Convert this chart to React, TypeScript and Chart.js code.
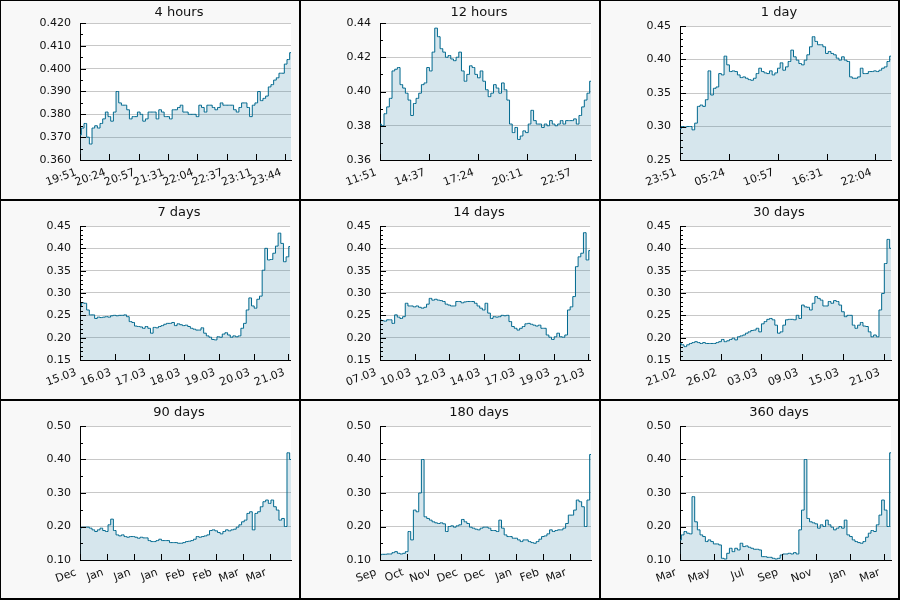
import React, { useEffect, useRef } from "react";
import { Chart, registerables } from "chart.js";

Chart.register(...registerables);

const FONT_FAMILY = "'DejaVu Sans', 'Liberation Sans', sans-serif";
const LINE_COLOR = "#00698f";
const FILL_COLOR = "rgba(50, 130, 165, 0.2)";
const GRID_COLOR = "#c8c8c8";
const PANEL_BG = "#f8f8f8";
const TEXT_COLOR = "#111";

// ---- 4 hours ----
const hours4Ticks = ["19:51", "20:24", "20:57", "21:31", "22:04", "22:37", "23:11", "23:44"];
const hours4Values = [
  0.371, 0.374, 0.376, 0.370, 0.367, 0.374, 0.375, 0.374, 0.376, 0.378,
  0.381, 0.379, 0.377, 0.381, 0.390, 0.385, 0.384, 0.384, 0.382, 0.378,
  0.379, 0.379, 0.381, 0.380, 0.377, 0.378, 0.381, 0.381, 0.381, 0.378,
  0.382, 0.381, 0.379, 0.379, 0.378, 0.382, 0.382, 0.383, 0.384, 0.381,
  0.381, 0.380, 0.380, 0.380, 0.379, 0.384, 0.383, 0.381, 0.384, 0.384,
  0.383, 0.382, 0.383, 0.385, 0.384, 0.384, 0.384, 0.384, 0.382, 0.381,
  0.383, 0.385, 0.385, 0.383, 0.379, 0.384, 0.385, 0.390, 0.386, 0.387,
  0.388, 0.392, 0.393, 0.395, 0.396, 0.398, 0.398, 0.402, 0.404, 0.407,
];

// ---- 12 hours ----
const hours12Ticks = ["11:51", "14:37", "17:24", "20:11", "22:57"];
const hours12Values = [
  0.381, 0.380, 0.387, 0.391, 0.396, 0.412, 0.413, 0.414, 0.404, 0.402,
  0.399, 0.395, 0.386, 0.393, 0.396, 0.399, 0.404, 0.405, 0.414, 0.412,
  0.423, 0.437, 0.432, 0.425, 0.423, 0.420, 0.421, 0.419, 0.418, 0.420,
  0.423, 0.412, 0.406, 0.410, 0.415, 0.414, 0.410, 0.408, 0.412, 0.406,
  0.401, 0.397, 0.399, 0.404, 0.402, 0.399, 0.405, 0.401, 0.395, 0.381,
  0.376, 0.379, 0.372, 0.374, 0.377, 0.376, 0.381, 0.389, 0.383, 0.381,
  0.381, 0.379, 0.381, 0.380, 0.383, 0.381, 0.380, 0.381, 0.383, 0.381,
  0.383, 0.383, 0.383, 0.384, 0.381, 0.386, 0.391, 0.395, 0.399, 0.406,
];

// ---- 1 day ----
const day1Ticks = ["23:51", "05:24", "10:57", "16:31", "22:04"];
const day1Values = [
  0.297, 0.300, 0.299, 0.300, 0.300, 0.295, 0.305, 0.330, 0.332, 0.330,
  0.340, 0.383, 0.347, 0.357, 0.359, 0.379, 0.377, 0.405, 0.392, 0.382,
  0.383, 0.382, 0.377, 0.373, 0.374, 0.372, 0.370, 0.369, 0.372, 0.379,
  0.387, 0.382, 0.380, 0.379, 0.383, 0.377, 0.380, 0.387, 0.395, 0.384,
  0.389, 0.397, 0.414, 0.404, 0.399, 0.394, 0.392, 0.399, 0.407, 0.419,
  0.434, 0.427, 0.422, 0.422, 0.419, 0.409, 0.412, 0.409, 0.407, 0.402,
  0.399, 0.404, 0.399, 0.397, 0.374, 0.372, 0.372, 0.374, 0.387, 0.379,
  0.379, 0.382, 0.382, 0.383, 0.382, 0.384, 0.387, 0.389, 0.397, 0.405,
];

// ---- 7 days ----
const days7Ticks = ["15.03", "16.03", "17.03", "18.03", "19.03", "20.03", "21.03"];
const days7Values = [
  0.269, 0.278, 0.277, 0.262, 0.251, 0.251, 0.243, 0.246, 0.245, 0.246,
  0.247, 0.246, 0.249, 0.250, 0.249, 0.250, 0.250, 0.251, 0.247, 0.236,
  0.234, 0.226, 0.225, 0.224, 0.221, 0.225, 0.221, 0.210, 0.223, 0.222,
  0.225, 0.227, 0.230, 0.232, 0.232, 0.234, 0.227, 0.231, 0.229, 0.227,
  0.228, 0.225, 0.221, 0.219, 0.217, 0.217, 0.222, 0.210, 0.204, 0.201,
  0.196, 0.195, 0.202, 0.201, 0.208, 0.211, 0.206, 0.201, 0.204, 0.202,
  0.204, 0.221, 0.232, 0.262, 0.289, 0.271, 0.266, 0.286, 0.293, 0.351,
  0.400, 0.374, 0.375, 0.389, 0.405, 0.434, 0.411, 0.370, 0.381, 0.404,
];

// ---- 14 days ----
const days14Ticks = ["07.03", "10.03", "12.03", "14.03", "17.03", "19.03", "21.03"];
const days14Values = [
  0.240, 0.238, 0.237, 0.240, 0.240, 0.232, 0.251, 0.246, 0.243, 0.247,
  0.277, 0.271, 0.271, 0.269, 0.271, 0.268, 0.266, 0.268, 0.275, 0.288,
  0.284, 0.286, 0.284, 0.283, 0.281, 0.275, 0.273, 0.271, 0.271, 0.281,
  0.281, 0.278, 0.280, 0.281, 0.281, 0.281, 0.277, 0.271, 0.266, 0.262,
  0.277, 0.255, 0.243, 0.247, 0.246, 0.247, 0.250, 0.249, 0.250, 0.236,
  0.225, 0.221, 0.217, 0.221, 0.225, 0.231, 0.232, 0.230, 0.228, 0.226,
  0.228, 0.221, 0.221, 0.206, 0.201, 0.196, 0.202, 0.210, 0.202, 0.201,
  0.206, 0.262, 0.269, 0.292, 0.359, 0.381, 0.389, 0.435, 0.374, 0.395,
];

// ---- 30 days ----
const days30Ticks = ["21.02", "26.02", "03.03", "09.03", "15.03", "21.03"];
const days30Values = [
  0.187, 0.184, 0.180, 0.184, 0.187, 0.189, 0.191, 0.189, 0.187, 0.189,
  0.187, 0.187, 0.187, 0.187, 0.189, 0.191, 0.196, 0.191, 0.193, 0.196,
  0.199, 0.195, 0.202, 0.204, 0.206, 0.210, 0.213, 0.216, 0.217, 0.221,
  0.213, 0.231, 0.236, 0.241, 0.243, 0.240, 0.228, 0.210, 0.213, 0.228,
  0.240, 0.241, 0.241, 0.240, 0.250, 0.243, 0.273, 0.269, 0.268, 0.262,
  0.277, 0.292, 0.288, 0.284, 0.271, 0.271, 0.281, 0.277, 0.283, 0.281,
  0.273, 0.258, 0.247, 0.250, 0.250, 0.228, 0.221, 0.228, 0.234, 0.226,
  0.225, 0.213, 0.202, 0.206, 0.202, 0.262, 0.299, 0.366, 0.420, 0.400,
];

// ---- 90 days ----
const days90Ticks = ["Dec", "Jan", "Jan", "Jan", "Feb", "Feb", "Mar", "Mar"];
const days90Values = [
  0.195, 0.198, 0.198, 0.198, 0.195, 0.190, 0.185, 0.190, 0.195, 0.188,
  0.185, 0.205, 0.222, 0.188, 0.175, 0.172, 0.175, 0.170, 0.168, 0.170,
  0.170, 0.168, 0.165, 0.168, 0.166, 0.166, 0.158, 0.155, 0.155, 0.158,
  0.162, 0.158, 0.158, 0.158, 0.152, 0.152, 0.152, 0.150, 0.150, 0.152,
  0.155, 0.156, 0.158, 0.162, 0.170, 0.168, 0.170, 0.172, 0.175, 0.188,
  0.190, 0.187, 0.182, 0.178, 0.185, 0.190, 0.187, 0.190, 0.192, 0.198,
  0.205, 0.214, 0.219, 0.239, 0.244, 0.190, 0.239, 0.244, 0.259, 0.274,
  0.279, 0.269, 0.279, 0.259, 0.249, 0.219, 0.224, 0.200, 0.420, 0.400,
];

// ---- 180 days ----
const days180Ticks = ["Sep", "Oct", "Nov", "Dec", "Dec", "Jan", "Feb", "Mar"];
const days180Values = [
  0.115, 0.117, 0.117, 0.118, 0.118, 0.122, 0.125, 0.120, 0.118, 0.120,
  0.125, 0.185, 0.160, 0.249, 0.244, 0.300, 0.400, 0.229, 0.224, 0.219,
  0.214, 0.211, 0.209, 0.211, 0.208, 0.185, 0.200, 0.202, 0.198, 0.202,
  0.205, 0.221, 0.214, 0.209, 0.198, 0.195, 0.192, 0.190, 0.195, 0.198,
  0.198, 0.195, 0.188, 0.188, 0.185, 0.219, 0.195, 0.175, 0.170, 0.170,
  0.165, 0.165, 0.160, 0.155, 0.160, 0.160, 0.155, 0.152, 0.150, 0.155,
  0.162, 0.170, 0.172, 0.178, 0.190, 0.185, 0.188, 0.190, 0.190, 0.195,
  0.209, 0.234, 0.234, 0.249, 0.279, 0.274, 0.259, 0.200, 0.279, 0.415,
];

// ---- 360 days ----
const days360Ticks = ["Mar", "May", "Jul", "Sep", "Nov", "Jan", "Mar"];
const days360Values = [
  0.160, 0.175, 0.185, 0.180, 0.178, 0.289, 0.214, 0.190, 0.175, 0.170,
  0.155, 0.160, 0.155, 0.148, 0.148, 0.145, 0.105, 0.103, 0.120, 0.135,
  0.125, 0.135, 0.130, 0.150, 0.140, 0.142, 0.138, 0.135, 0.132, 0.132,
  0.130, 0.110, 0.110, 0.108, 0.108, 0.105, 0.103, 0.105, 0.115, 0.118,
  0.118, 0.120, 0.118, 0.122, 0.118, 0.190, 0.249, 0.400, 0.224, 0.214,
  0.211, 0.208, 0.195, 0.205, 0.200, 0.219, 0.205, 0.198, 0.190, 0.195,
  0.200, 0.195, 0.219, 0.175, 0.170, 0.160, 0.155, 0.152, 0.150, 0.155,
  0.168, 0.180, 0.188, 0.185, 0.205, 0.234, 0.279, 0.249, 0.200, 0.420,
];

interface PanelSpec {
  title: string;
  span: number; // seconds covered by the x axis
  xStep: number; // seconds between labelled x ticks
  xLabels: string[];
  values: number[];
  yMin: number;
  yMax: number;
  yStep: number;
  yMinor: number;
  decimals: number;
  plotTop: number;
}

const HOUR = 3600;
const DAY = 86400;

const PANELS: PanelSpec[] = [
  { title: "4 hours", span: 4 * HOUR, xStep: 2000, xLabels: hours4Ticks, values: hours4Values, yMin: 0.36, yMax: 0.42, yStep: 0.01, yMinor: 0.005, decimals: 3, plotTop: 22 },
  { title: "12 hours", span: 12 * HOUR, xStep: 10000, xLabels: hours12Ticks, values: hours12Values, yMin: 0.36, yMax: 0.44, yStep: 0.02, yMinor: 0.01, decimals: 2, plotTop: 22 },
  { title: "1 day", span: DAY, xStep: 20000, xLabels: day1Ticks, values: day1Values, yMin: 0.25, yMax: 0.45, yStep: 0.05, yMinor: 0.01, decimals: 2, plotTop: 25 },
  { title: "7 days", span: 7 * DAY, xStep: 100000, xLabels: days7Ticks, values: days7Values, yMin: 0.15, yMax: 0.45, yStep: 0.05, yMinor: 0.01, decimals: 2, plotTop: 25 },
  { title: "14 days", span: 14 * DAY, xStep: 200000, xLabels: days14Ticks, values: days14Values, yMin: 0.15, yMax: 0.45, yStep: 0.05, yMinor: 0.01, decimals: 2, plotTop: 25 },
  { title: "30 days", span: 30 * DAY, xStep: 500000, xLabels: days30Ticks, values: days30Values, yMin: 0.15, yMax: 0.45, yStep: 0.05, yMinor: 0.01, decimals: 2, plotTop: 25 },
  { title: "90 days", span: 90 * DAY, xStep: 1000000, xLabels: days90Ticks, values: days90Values, yMin: 0.1, yMax: 0.5, yStep: 0.1, yMinor: 0.05, decimals: 2, plotTop: 25 },
  { title: "180 days", span: 180 * DAY, xStep: 2000000, xLabels: days180Ticks, values: days180Values, yMin: 0.1, yMax: 0.5, yStep: 0.1, yMinor: 0.05, decimals: 2, plotTop: 25 },
  { title: "360 days", span: 360 * DAY, xStep: 5000000, xLabels: days360Ticks, values: days360Values, yMin: 0.1, yMax: 0.5, yStep: 0.1, yMinor: 0.05, decimals: 2, plotTop: 25 },
];

const PLOT_LEFT = 79;
const PLOT_RIGHT = 290;
const PLOT_BOTTOM = 159;
const TITLE_X = 178;
const TITLE_BASELINE = 15;

const COL_X = [1, 301, 601];
const COL_W = [298, 298, 297];
const ROW_Y = [1, 201, 401];
const ROW_H = [198, 198, 197];

function Panel({ spec, width, height }: { spec: PanelSpec; width: number; height: number }) {
  const ref = useRef<HTMLCanvasElement | null>(null);

  useEffect(() => {
    const canvas = ref.current;
    if (!canvas) return;
    const n = spec.values.length;
    const points = spec.values.map((y, i) => ({ x: (i * spec.span) / (n - 1), y }));

    const decor = {
      id: "panelDecor",
      beforeDraw(chart: any) {
        const { ctx, chartArea: a } = chart;
        ctx.save();
        ctx.fillStyle = "#ffffff";
        ctx.fillRect(a.left, a.top, a.right - a.left, a.bottom - a.top);
        ctx.restore();
      },
      afterDatasetsDraw(chart: any) {
        const { ctx, chartArea: a, scales } = chart;
        const xs = scales.x;
        const ys = scales.y;
        ctx.save();
        ctx.strokeStyle = "#000";
        ctx.lineWidth = 1;
        ctx.beginPath();
        // inward tick marks on the value axis, long at labelled values
        const ratio = Math.round(spec.yStep / spec.yMinor);
        const count = Math.round((spec.yMax - spec.yMin) / spec.yMinor);
        for (let k = 0; k <= count; k++) {
          const py = Math.round(ys.getPixelForValue(spec.yMin + k * spec.yMinor)) + 0.5;
          const len = k % ratio === 0 ? 6 : 3;
          ctx.moveTo(a.left, py);
          ctx.lineTo(a.left + len, py);
        }
        // inward tick marks on the time axis
        spec.xLabels.forEach((_, i) => {
          const px = Math.round(xs.getPixelForValue(i * spec.xStep)) + 0.5;
          ctx.moveTo(px, a.bottom);
          ctx.lineTo(px, a.bottom - 6);
        });
        ctx.stroke();
        ctx.restore();
      },
      afterDraw(chart: any) {
        const { ctx } = chart;
        ctx.save();
        ctx.fillStyle = TEXT_COLOR;
        ctx.font = `13px ${FONT_FAMILY}`;
        ctx.textAlign = "center";
        ctx.textBaseline = "alphabetic";
        ctx.fillText(spec.title, TITLE_X, TITLE_BASELINE);
        ctx.restore();
      },
    };

    const chart = new Chart(canvas, {
      type: "line",
      data: {
        datasets: [
          {
            data: points,
            borderColor: LINE_COLOR,
            borderWidth: 1,
            backgroundColor: FILL_COLOR,
            fill: "start",
            pointRadius: 0,
            stepped: "middle",
          },
        ],
      },
      options: {
        responsive: false,
        animation: false,
        devicePixelRatio: 1,
        events: [],
        layout: { padding: { top: spec.plotTop, right: width - PLOT_RIGHT, bottom: 0, left: 0 } },
        plugins: { legend: { display: false }, tooltip: { enabled: false }, title: { display: false } },
        scales: {
          x: {
            type: "linear",
            min: 0,
            max: spec.span,
            afterBuildTicks: (scale: any) => {
              scale.ticks = spec.xLabels.map((_, i) => ({ value: i * spec.xStep }));
            },
            afterFit: (scale: any) => {
              scale.height = height - PLOT_BOTTOM;
            },
            grid: { drawOnChartArea: false, drawTicks: false },
            border: { display: true, color: "#000", width: 1 },
            ticks: {
              autoSkip: false,
              minRotation: 20,
              maxRotation: 20,
              padding: 6,
              labelOffset: -4,
              color: TEXT_COLOR,
              font: { family: FONT_FAMILY, size: 11 },
              callback: (_v: any, i: number) => spec.xLabels[i],
            },
          },
          y: {
            type: "linear",
            min: spec.yMin,
            max: spec.yMax,
            afterBuildTicks: (scale: any) => {
              const c = Math.round((spec.yMax - spec.yMin) / spec.yStep);
              scale.ticks = Array.from({ length: c + 1 }, (_, k) => ({ value: spec.yMin + k * spec.yStep }));
            },
            afterFit: (scale: any) => {
              scale.width = PLOT_LEFT;
            },
            grid: { color: GRID_COLOR, drawTicks: false, lineWidth: 1 },
            border: { display: true, color: "#000", width: 1 },
            ticks: {
              padding: 9,
              color: TEXT_COLOR,
              font: { family: FONT_FAMILY, size: 11 },
              callback: (v: any) => Number(v).toFixed(spec.decimals),
            },
          },
        },
      },
      plugins: [decor],
    } as any);

    return () => chart.destroy();
  }, [spec, width, height]);

  return <canvas ref={ref} width={width} height={height} style={{ display: "block", background: PANEL_BG }} />;
}

export default function App() {
  return (
    <div style={{ position: "fixed", left: 0, top: 0, width: 900, height: 600, background: "#000" }}>
      {PANELS.map((spec, i) => {
        const c = i % 3;
        const r = Math.floor(i / 3);
        return (
          <div key={spec.title} style={{ position: "absolute", left: COL_X[c], top: ROW_Y[r], width: COL_W[c], height: ROW_H[r] }}>
            <Panel spec={spec} width={COL_W[c]} height={ROW_H[r]} />
          </div>
        );
      })}
    </div>
  );
}
